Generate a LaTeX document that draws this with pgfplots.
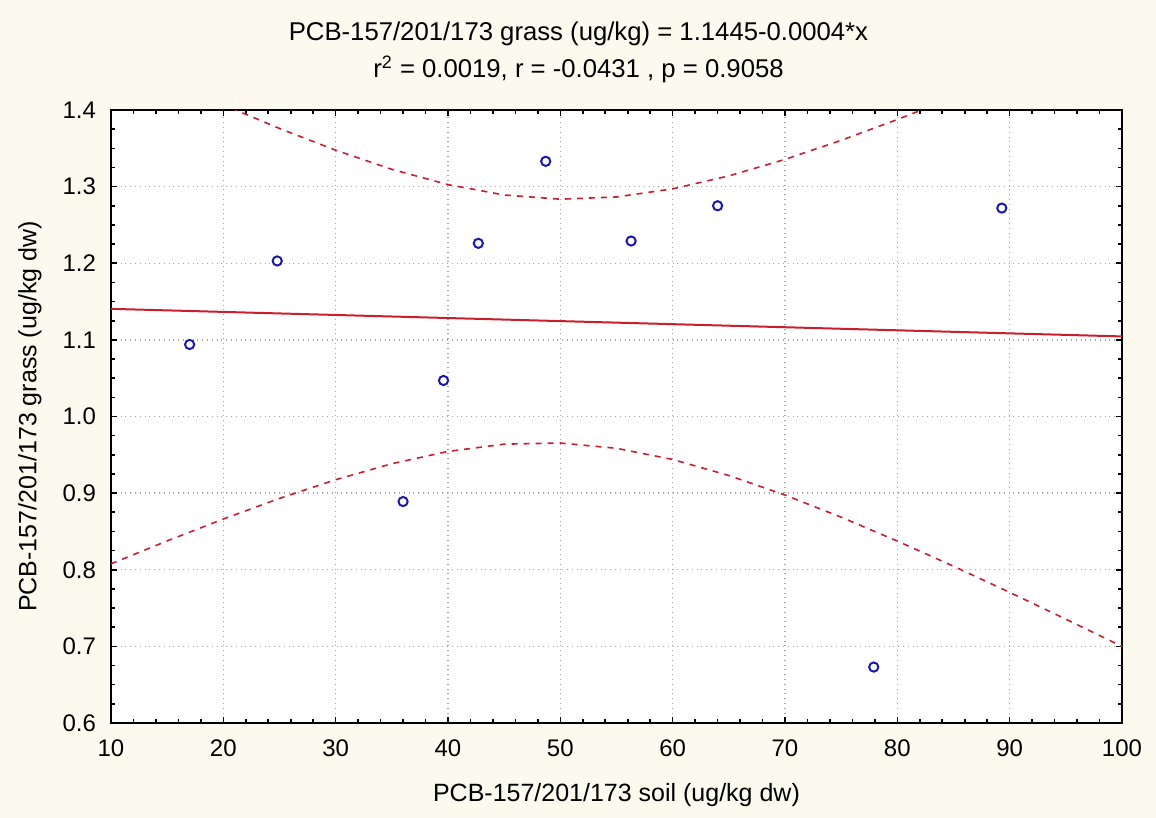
\documentclass[border=0pt]{standalone}
\usepackage{fontspec}
\setmainfont{Liberation Sans}
\usepackage{pgfplots}
\pgfplotsset{compat=1.18}
\definecolor{bgcream}{RGB}{252,249,239}
\definecolor{fitred}{RGB}{200,30,45}
\definecolor{ptblue}{RGB}{25,25,170}
\definecolor{gridgray}{RGB}{165,165,165}

\begin{document}
\begin{tikzpicture}
\fill[bgcream] (-55.5pt,-47.5pt) rectangle (522.5pt,361.5pt);
\useasboundingbox (-55.5pt,-47.5pt) rectangle (522.5pt,361.5pt);
\begin{axis}[
  scale only axis,
  width=505.5pt, height=306.5pt,
  xmin=10, xmax=100, ymin=0.6, ymax=1.4,
  clip mode=individual,
  xtick={10,20,30,40,50,60,70,80,90,100},
  ytick={0.6,0.7,0.8,0.9,1.0,1.1,1.2,1.3,1.4},
  minor x tick num=4, minor y tick num=3,
  tick align=inside,
  major tick length=3pt, minor tick length=2pt,
  tick style={black, line width=0.8pt},
  axis line style={black, line width=1pt},
  axis background/.style={fill=white},
  grid=major,
  major grid style={gridgray, dotted, line width=0.7pt},
  ticklabel style={font=\fontsize{12}{14}\selectfont},
  /pgf/number format/assume math mode=true,
  xticklabel style={yshift=-5pt},
  yticklabel style={xshift=-4pt, /pgf/number format/fixed,
    /pgf/number format/fixed zerofill, /pgf/number format/precision=1},
  xlabel={PCB-157/201/173 soil (ug/kg dw)},
  ylabel={PCB-157/201/173 grass (ug/kg dw)},
  label style={font=\fontsize{12.5}{14}\selectfont},
  xlabel style={at={(axis description cs:0.5,-0.1175)}, anchor=center},
  ylabel style={at={(axis description cs:-0.0801,0.5)}, anchor=center},
]
% 95% confidence band, upper
\addplot[fitred, line width=0.8pt, dash pattern=on 3pt off 3pt] coordinates {
  (10,1.4733) (15,1.4394) (20,1.4068) (25,1.3759) (30,1.3475) (35,1.3226)
  (40,1.3026) (45,1.2891) (50,1.2836) (55,1.2865) (60,1.2971) (65,1.3140)
  (70,1.3355) (75,1.3604) (80,1.3876) (85,1.4164) (90,1.4465) (95,1.4775)
  (100,1.5091)
};
% 95% confidence band, lower
\addplot[fitred, line width=0.8pt, dash pattern=on 3pt off 3pt] coordinates {
  (10,0.8077) (15,0.8376) (20,0.8662) (25,0.8931) (30,0.9175) (35,0.9384)
  (40,0.9544) (45,0.9639) (50,0.9654) (55,0.9585) (60,0.9439) (65,0.9230)
  (70,0.8975) (75,0.8686) (80,0.8374) (85,0.8046) (90,0.7705) (95,0.7355)
  (100,0.7000)
};
% regression line
\addplot[fitred, line width=1pt] coordinates {(10,1.1405) (100,1.1045)};
% observations
\addplot[only marks, mark=o, mark size=2.3pt,
  mark options={ptblue, line width=1pt}] coordinates {
  (17.0,1.094) (24.8,1.203) (36.0,0.889) (39.6,1.047) (42.7,1.226)
  (48.7,1.333) (56.3,1.229) (64.0,1.275) (77.9,0.673) (89.3,1.272)
};
\node[anchor=base, font=\fontsize{12.85}{15}\selectfont, xshift=-19pt, yshift=34.75pt]
  at (rel axis cs:0.5,1) {PCB-157/201/173 grass (ug/kg) = 1.1445-0.0004*x};
\node[anchor=base, font=\fontsize{12.85}{15}\selectfont, xshift=-19pt, yshift=16.25pt]
  at (rel axis cs:0.5,1) {r\textsuperscript{2} = 0.0019, r = -0.0431 , p = 0.9058};
\end{axis}
\end{tikzpicture}
\end{document}
